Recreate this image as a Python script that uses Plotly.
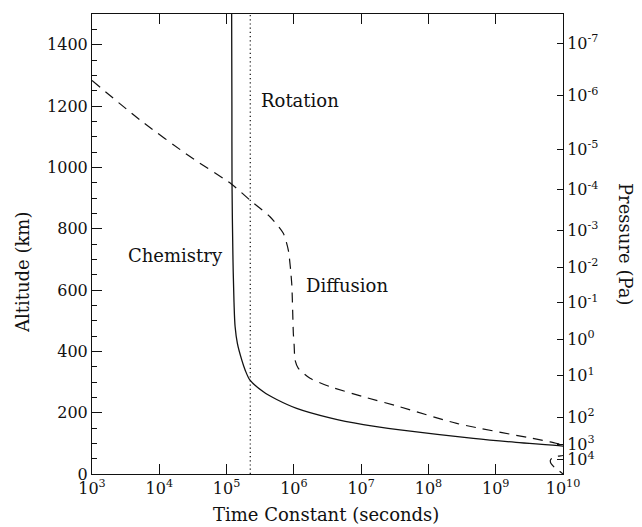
import plotly.graph_objects as go

# Chemistry time constant (solid)
chem_t = [1.19e5, 1.20e5, 1.205e5, 1.245e5, 1.29e5, 1.34e5, 1.45e5, 1.68e5, 1.88e5,
          2.23e5, 3.52e5, 5.56e5, 1.10e6, 3.44e6, 1.08e7, 3.78e7, 4.65e8, 2.0e9, 1.0e10, 2.5e10]
chem_alt = [1500, 1200, 945, 700, 560, 480, 425, 372, 340,
            306, 268, 243, 214, 183, 161, 144, 116, 103, 91, 80]

# Diffusion time constant (dashed)
diff_t = [1.0e3, 5.2e3, 2.86e4, 1.19e5, 2.23e5, 4.42e5, 6.97e5, 8.27e5, 9.29e5, 9.82e5,
          1.01e6, 1.04e6, 1.16e6, 1.74e6, 3.44e6, 1.08e7, 3.78e7, 2.63e8, 6.4e9, 1.0e10,
          2.0e10, 1.12e10, 7.1e9, 6.5e9, 6.6e9, 7.6e9, 9.0e9, 1.0e10]
diff_alt = [1283, 1154, 1035, 945, 893, 839, 785, 730, 622, 459,
            420, 372, 345, 312, 285, 252, 219, 165, 105, 95,
            80, 62, 55, 45, 35, 20, 8, 0]

# Rotation time constant (dotted)
rot_t = [2.25e5, 2.25e5]
rot_alt = [0, 1500]

# Axis ticks
x_tickvals = [1e3, 1e4, 1e5, 1e6, 1e7, 1e8, 1e9, 1e10]
x_ticktext = ["10<sup>3</sup>", "10<sup>4</sup>", "10<sup>5</sup>", "10<sup>6</sup>",
              "10<sup>7</sup>", "10<sup>8</sup>", "10<sup>9</sup>", "10<sup>10</sup>"]
alt_ticks = [0, 200, 400, 600, 800, 1000, 1200, 1400]
p_alt = [1404, 1233, 1059, 927, 794, 674, 558, 439, 320, 185, 97, 46]
p_text = ["10<sup>-7</sup>", "10<sup>-6</sup>", "10<sup>-5</sup>", "10<sup>-4</sup>",
          "10<sup>-3</sup>", "10<sup>-2</sup>", "10<sup>-1</sup>", "10<sup>0</sup>",
          "10<sup>1</sup>", "10<sup>2</sup>", "10<sup>3</sup>", "10<sup>4</sup>"]

FONT = "DejaVu Serif"
INK = "#111111"

fig = go.Figure()
fig.add_trace(go.Scatter(x=chem_t, y=chem_alt, mode="lines",
                         line=dict(color=INK, width=1.3, shape="spline", smoothing=0.9),
                         showlegend=False))
fig.add_trace(go.Scatter(x=diff_t, y=diff_alt, mode="lines",
                         line=dict(color=INK, width=1.2, dash="10px,7px",
                                   shape="spline", smoothing=0.6),
                         showlegend=False))
fig.add_trace(go.Scatter(x=rot_t, y=rot_alt, mode="lines",
                         line=dict(color=INK, width=1.2, dash="1.2px,3px"), showlegend=False))
fig.add_trace(go.Scatter(x=[1e5], y=[None], yaxis="y2", mode="lines", showlegend=False))

fig.update_layout(
    width=642, height=527, autosize=False,
    margin=dict(l=92, r=79, t=14, b=53),
    paper_bgcolor="white", plot_bgcolor="white",
    font=dict(family=FONT, size=16, color=INK),
    xaxis=dict(type="log", range=[3, 10], tickvals=x_tickvals, ticktext=x_ticktext,
               ticks="inside", ticklen=10, tickcolor=INK, showline=True, linecolor=INK,
               linewidth=1, mirror="ticks", showgrid=False, zeroline=False,
               tickfont=dict(family=FONT, size=16, color=INK)),
    yaxis=dict(range=[0, 1500], tickvals=alt_ticks, ticks="inside", ticklen=10,
               tickcolor=INK, showline=True, linecolor=INK, linewidth=1,
               showgrid=False, zeroline=False,
               minor=dict(dtick=50, ticks="inside", ticklen=5, tickcolor=INK, showgrid=False),
               tickfont=dict(family=FONT, size=16, color=INK)),
    yaxis2=dict(range=[0, 1500], overlaying="y", side="right", tickvals=p_alt,
                ticktext=p_text, ticks="inside", ticklen=6, tickcolor=INK,
                showline=True, linecolor=INK, linewidth=1, showgrid=False,
                zeroline=False, tickfont=dict(family=FONT, size=16, color=INK)),
    annotations=[
        dict(text="Rotation", x=5.482, y=1217, xref="x", yref="y", xanchor="left",
             yanchor="middle", showarrow=False, font=dict(family=FONT, size=18, color=INK)),
        dict(text="Chemistry", x=4.977, y=714, xref="x", yref="y", xanchor="right",
             yanchor="middle", showarrow=False, font=dict(family=FONT, size=18, color=INK)),
        dict(text="Diffusion", x=6.155, y=616, xref="x", yref="y", xanchor="left",
             yanchor="middle", showarrow=False, font=dict(family=FONT, size=18, color=INK)),
        dict(text="Time Constant (seconds)", x=0.4968, y=-0.089, xref="paper", yref="paper",
             xanchor="center", yanchor="middle", showarrow=False,
             font=dict(family=FONT, size=18, color=INK)),
        dict(text="Altitude (km)", x=-0.1486, y=0.439, xref="paper", yref="paper",
             xanchor="center", yanchor="middle", textangle=-90, showarrow=False,
             font=dict(family=FONT, size=18, color=INK)),
        dict(text="Pressure (Pa)", x=1.1338, y=0.5, xref="paper", yref="paper",
             xanchor="center", yanchor="middle", textangle=90, showarrow=False,
             font=dict(family=FONT, size=18, color=INK)),
    ],
)

fig.write_html("out.html")
